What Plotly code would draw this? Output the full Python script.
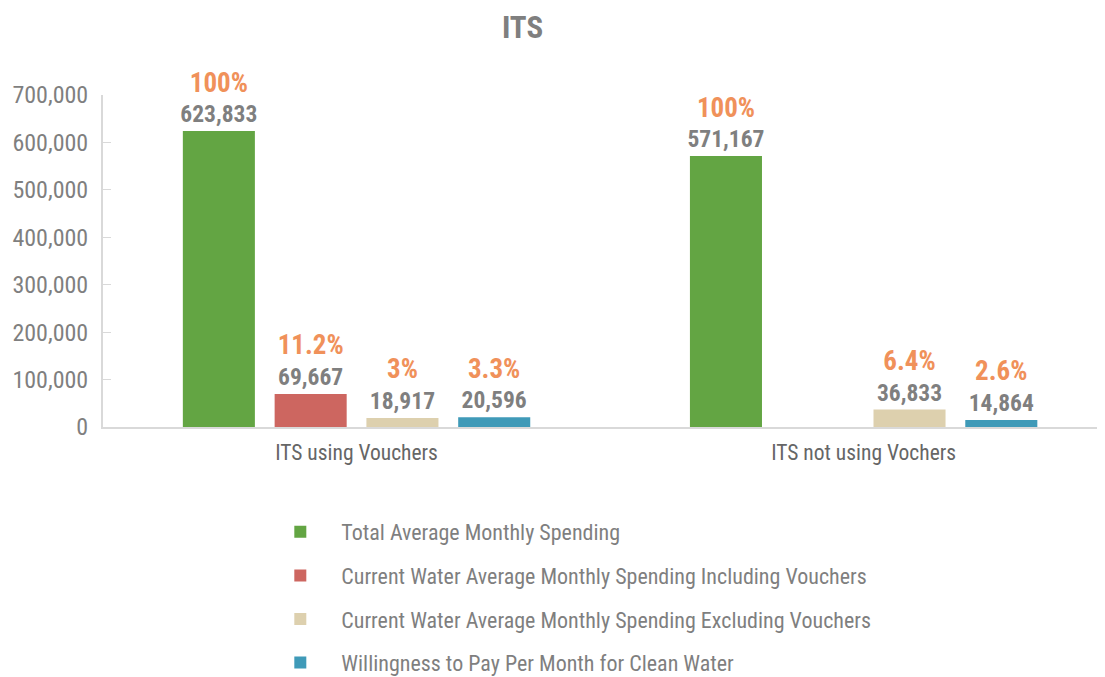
import plotly.graph_objects as go

categories = ["ITS using Vouchers", "ITS not using Vochers"]
series_names = [
    "Total Average Monthly Spending",
    "Current Water Average Monthly Spending Including Vouchers",
    "Current Water Average Monthly Spending Excluding Vouchers",
    "Willingness to Pay Per Month for Clean Water",
]
total_spending = [623833, 571167]
incl_vouchers = [69667, None]
excl_vouchers = [18917, 36833]
willingness = [20596, 14864]

total_pct = ["100%", "100%"]
incl_pct = ["11.2%", None]
excl_pct = ["3%", "6.4%"]
will_pct = ["3.3%", "2.6%"]

y_ticks = [0, 100000, 200000, 300000, 400000, 500000, 600000, 700000]

colors = ["#63A543", "#CD6660", "#DDD0AE", "#3F9AB8"]
ORANGE = "#F0915A"
GRAY = "#7F7F7F"
FONT = "Liberation Sans Narrow, Roboto Condensed, DejaVu Sans Condensed, Arial Narrow, sans-serif"

values_list = [total_spending, incl_vouchers, excl_vouchers, willingness]
pct_list = [total_pct, incl_pct, excl_pct, will_pct]


def make_text(vals, pcts):
    out = []
    for v, p in zip(vals, pcts):
        if v is None:
            out.append("")
        else:
            out.append(
                f"<span style='color:{ORANGE};font-size:27px'>{p}</span><br>{v:,}"
            )
    return out


fig = go.Figure()
for i, (name, vals, pcts, col) in enumerate(zip(series_names, values_list, pct_list, colors)):
    fig.add_trace(
        go.Bar(
            name=name,
            x=categories,
            y=vals,
            marker=dict(color=col, line=dict(width=0)),
            text=make_text(vals, pcts),
            textposition="outside",
            constraintext="none",
            textfont=dict(family=FONT, size=23.5, color=GRAY, weight="bold"),
            cliponaxis=False,
            hoverinfo="skip",
            legendgroup=f"g{i}",
        )
    )

fig.update_layout(
    width=1097,
    height=685,
    paper_bgcolor="white",
    plot_bgcolor="white",
    barmode="group",
    bargap=0.276,
    bargroupgap=0.215,
    margin=dict(l=95, r=0, t=87, b=266, autoexpand=False),
    font=dict(family=FONT, color=GRAY),
    title=dict(
        text="<b>ITS</b>",
        x=0.469,
        xanchor="center",
        y=0.972,
        yanchor="middle",
        font=dict(family=FONT, size=31, color=GRAY),
    ),
    showlegend=True,
    legend=dict(
        orientation="v",
        x=0.156,
        xanchor="left",
        y=-0.253,
        yanchor="top",
        font=dict(family=FONT, size=22, color=GRAY),
        tracegroupgap=12,
        itemwidth=72,
        traceorder="grouped",
    ),
)

fig.update_yaxes(
    range=[0, 700000],
    tickvals=y_ticks,
    tickformat=",d",
    showgrid=False,
    zeroline=False,
    showline=True,
    linecolor="#D9D9D9",
    linewidth=2,
    ticks="inside",
    ticklen=8,
    tickcolor="#D9D9D9",
    tickfont=dict(family=FONT, size=24, color=GRAY),
    ticklabelstandoff=8,
)
fig.update_xaxes(
    range=[-0.5, 1.476],
    showgrid=False,
    showline=True,
    linecolor="#D9D9D9",
    linewidth=2,
    ticks="",
    ticklabelstandoff=5,
    tickfont=dict(family=FONT, size=21.5, color="#666666"),
)

fig.write_html("out.html")
